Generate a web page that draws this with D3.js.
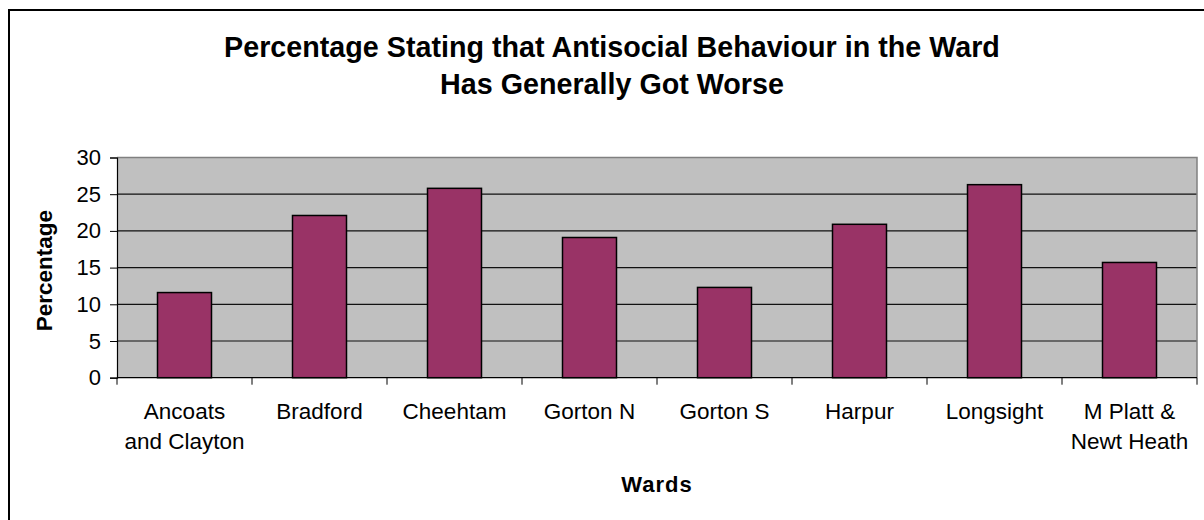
<!DOCTYPE html>
<html>
<head>
<meta charset="utf-8">
<script src="https://cdn.jsdelivr.net/npm/d3@7"></script>
<style>
  body { margin: 0; background: #fff; }
  svg { display: block; font-family: Arial, "Liberation Sans", sans-serif; }
</style>
</head>
<body>
<svg id="chart" width="1204" height="520"></svg>
<script>
// data
const wards = ["Ancoats\nand Clayton", "Bradford", "Cheehtam", "Gorton N", "Gorton S",
               "Harpur", "Longsight", "M Platt &\nNewt Heath"];
const percentages = [11.6, 22.1, 25.8, 19.1, 12.3, 20.9, 26.3, 15.7];
const yTicks = [0, 5, 10, 15, 20, 25, 30];
const titleLines = ["Percentage Stating that Antisocial Behaviour in the Ward",
                    "Has Generally Got Worse"];

const svg = d3.select("#chart");
const plot = { left: 117, right: 1197, top: 157.5, bottom: 377.7 };

// outer chart frame (cropped on right and bottom)
svg.append("rect")
    .attr("x", 9).attr("y", 10)
    .attr("width", 1220).attr("height", 540)
    .attr("fill", "#fff")
    .attr("stroke", "#000")
    .attr("stroke-width", 2);

const x = d3.scaleBand()
    .domain(wards)
    .range([plot.left, plot.right])
    .paddingInner(0.6)
    .paddingOuter(0.3);

const y = d3.scaleLinear()
    .domain([0, 30])
    .range([plot.bottom, plot.top]);

// plot area
svg.append("rect")
    .attr("x", plot.left).attr("y", plot.top)
    .attr("width", plot.right - plot.left)
    .attr("height", plot.bottom - plot.top)
    .attr("fill", "#c0c0c0");

// gridlines
svg.append("g")
    .selectAll("line")
    .data(yTicks.filter(d => d > 0 && d < 30))
    .join("line")
    .attr("x1", plot.left).attr("x2", plot.right)
    .attr("y1", d => y(d)).attr("y2", d => y(d))
    .attr("stroke", "#111")
    .attr("stroke-width", 1.2);

// plot border top + right
svg.append("path")
    .attr("d", `M${plot.left},${plot.top}H${plot.right}V${plot.bottom}`)
    .attr("fill", "none")
    .attr("stroke", "#808080")
    .attr("stroke-width", 1.5);

// bars
svg.append("g")
    .selectAll("rect")
    .data(percentages)
    .join("rect")
    .attr("x", (d, i) => x(wards[i]))
    .attr("y", d => y(d))
    .attr("width", x.bandwidth())
    .attr("height", d => y(0) - y(d))
    .attr("fill", "#993366")
    .attr("stroke", "#000")
    .attr("stroke-width", 1.5);

// y axis
const yAxis = svg.append("g")
    .attr("transform", `translate(${plot.left},0)`)
    .call(d3.axisLeft(y).tickValues(yTicks).tickSize(7).tickPadding(9));
yAxis.select(".domain").attr("stroke", "#000").attr("stroke-width", 1.2);
yAxis.selectAll(".tick line").attr("stroke", "#000");
yAxis.selectAll(".tick text")
    .attr("font-size", 22)
    .attr("font-family", "Arial, 'Liberation Sans', sans-serif")
    .attr("fill", "#000");

// x axis: ticks between categories
const boundaries = d3.range(wards.length + 1).map(i => plot.left + i * (plot.right - plot.left) / wards.length);
svg.append("line")
    .attr("x1", plot.left).attr("x2", plot.right)
    .attr("y1", plot.bottom).attr("y2", plot.bottom)
    .attr("stroke", "#000").attr("stroke-width", 1.2);
svg.append("g")
    .selectAll("line")
    .data(boundaries)
    .join("line")
    .attr("x1", d => d).attr("x2", d => d)
    .attr("y1", plot.bottom).attr("y2", plot.bottom + 7)
    .attr("stroke", "#000");

// category labels
svg.append("g")
    .selectAll("text")
    .data(wards)
    .join("text")
    .attr("text-anchor", "middle")
    .attr("font-size", 22.5)
    .attr("fill", "#000")
    .each(function (d) {
        const cx = x(d) + x.bandwidth() / 2;
        d3.select(this).selectAll("tspan")
            .data(d.split("\n"))
            .join("tspan")
            .attr("x", cx)
            .attr("y", (t, i) => 419 + i * 30)
            .text(t => t);
    });

// axis titles
svg.append("text")
    .attr("x", (plot.left + plot.right) / 2)
    .attr("y", 491.5)
    .attr("text-anchor", "middle")
    .attr("font-size", 22)
    .attr("font-weight", "bold")
    .attr("letter-spacing", 1)
    .text("Wards");

svg.append("text")
    .attr("transform", `translate(52,${(plot.top + plot.bottom) / 2 + 3}) rotate(-90)`)
    .attr("text-anchor", "middle")
    .attr("font-size", 22.5)
    .attr("font-weight", "bold")
    .text("Percentage");

// title
svg.append("g")
    .selectAll("text")
    .data(titleLines)
    .join("text")
    .attr("x", 612)
    .attr("y", (d, i) => 57 + i * 36.5)
    .attr("text-anchor", "middle")
    .attr("font-size", 28.7)
    .attr("font-weight", "bold")
    .text(d => d);
</script>
</body>
</html>
